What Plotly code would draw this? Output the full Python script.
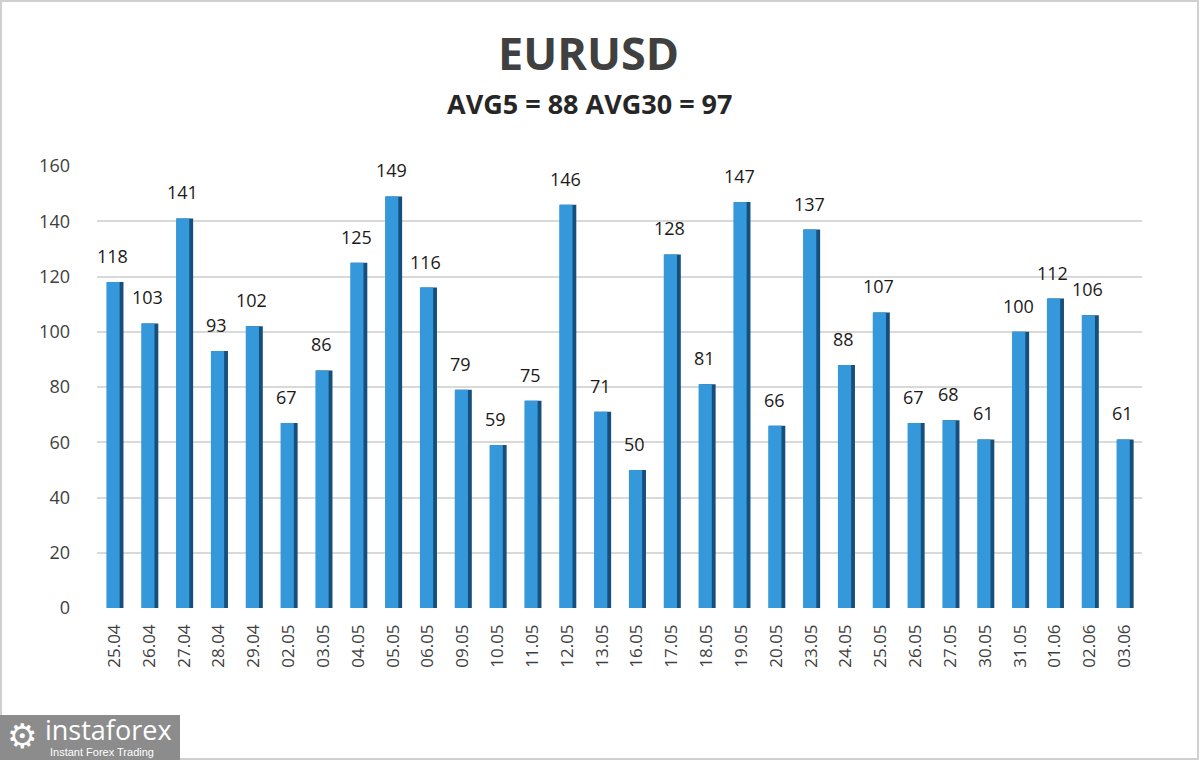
import plotly.graph_objects as go

dates = ["25.04", "26.04", "27.04", "28.04", "29.04", "02.05", "03.05", "04.05", "05.05", "06.05",
         "09.05", "10.05", "11.05", "12.05", "13.05", "16.05", "17.05", "18.05", "19.05", "20.05",
         "23.05", "24.05", "25.05", "26.05", "27.05", "30.05", "31.05", "01.06", "02.06", "03.06"]
values = [118, 103, 141, 93, 102, 67, 86, 125, 149, 116,
          79, 59, 75, 146, 71, 50, 128, 81, 147, 66,
          137, 88, 107, 67, 68, 61, 100, 112, 106, 61]
y_ticks = [0, 20, 40, 60, 80, 100, 120, 140, 160]

title_text = "EURUSD"
subtitle_text = "AVG5 = 88 AVG30 = 97"
logo_text = "instaforex"
logo_sub = "Instant Forex Trading"

W, H = 1200, 760
ML, MR, MT, MB = 97, 58, 166, 152
ph = H - MT - MB
pw = W - ML - MR


def py(pix):
    return (H - MB - pix) / ph


def px(pix):
    return (pix - ML) / pw


fig = go.Figure()

# dark side / depth of the bars
fig.add_trace(go.Bar(
    x=dates, y=values, width=0.47, offset=-0.21,
    marker=dict(color="#174f7c", line=dict(width=0)),
    hoverinfo="skip", showlegend=False,
))
# front face
fig.add_trace(go.Bar(
    x=dates, y=values, width=0.38, offset=-0.23,
    marker=dict(color="#3598da", line=dict(width=0)),
    showlegend=False,
))

anns = []
for i, v in enumerate(values):
    anns.append(dict(
        text=str(v), x=i, y=v, xref="x", yref="y", xshift=-2,
        xanchor="center", yanchor="bottom", yshift=12, showarrow=False,
        font=dict(family="Open Sans", size=18, color="#1a1a1a"),
    ))

anns += [
    dict(text="<b>" + title_text + "</b>", x=px(588), y=py(52), xref="paper", yref="paper",
         xanchor="center", yanchor="middle", showarrow=False,
         font=dict(family="Open Sans", size=45, color="#404040")),
    dict(text="<b>" + subtitle_text + "</b>", x=px(589), y=py(103), xref="paper", yref="paper",
         xanchor="center", yanchor="middle", showarrow=False,
         font=dict(family="Open Sans", size=27, color="#262626")),
    dict(text=logo_text, x=px(43), y=py(729), xref="paper", yref="paper",
         xanchor="left", yanchor="middle", showarrow=False,
         font=dict(family="Open Sans", size=27, color="white")),
    dict(text=logo_sub, x=px(48), y=py(752), xref="paper", yref="paper",
         xanchor="left", yanchor="middle", showarrow=False,
         font=dict(family="Liberation Sans", size=11, color="white")),
    dict(text="⚙", x=px(22), y=py(736), xref="paper", yref="paper",
         xanchor="center", yanchor="middle", showarrow=False,
         font=dict(family="DejaVu Sans", size=34, color="white")),
]

fig.update_layout(
    width=W, height=H,
    margin=dict(l=ML, r=MR, t=MT, b=MB),
    paper_bgcolor="white", plot_bgcolor="white",
    barmode="overlay",
    font=dict(family="Open Sans", color="#404040"),
    xaxis=dict(
        type="category", tickangle=-90, showgrid=False, ticks="",
        tickfont=dict(family="Open Sans", size=17, color="#404040"),
        ticklabelstandoff=12, showline=False, zeroline=False,
        range=[-0.5, len(dates) - 0.5],
    ),
    yaxis=dict(
        range=[0, 160], tickvals=y_ticks, showgrid=True, gridcolor="#d9d9d9",
        gridwidth=1.5, zeroline=False, showline=False, ticks="",
        tickfont=dict(family="Open Sans", size=18, color="#404040"),
        ticklabelstandoff=26,
    ),
    annotations=anns,
    shapes=[
        dict(type="rect", xref="paper", yref="paper", x0=px(1), x1=px(1198), y0=py(759), y1=py(1),
             line=dict(color="#d0d0d0", width=2), fillcolor="rgba(0,0,0,0)", layer="below"),
        dict(type="rect", xref="paper", yref="paper", x0=px(0), x1=px(180), y0=py(760), y1=py(715),
             line=dict(width=0), fillcolor="#8c8c8c", layer="below"),
    ],
)

fig.write_html("out.html")
